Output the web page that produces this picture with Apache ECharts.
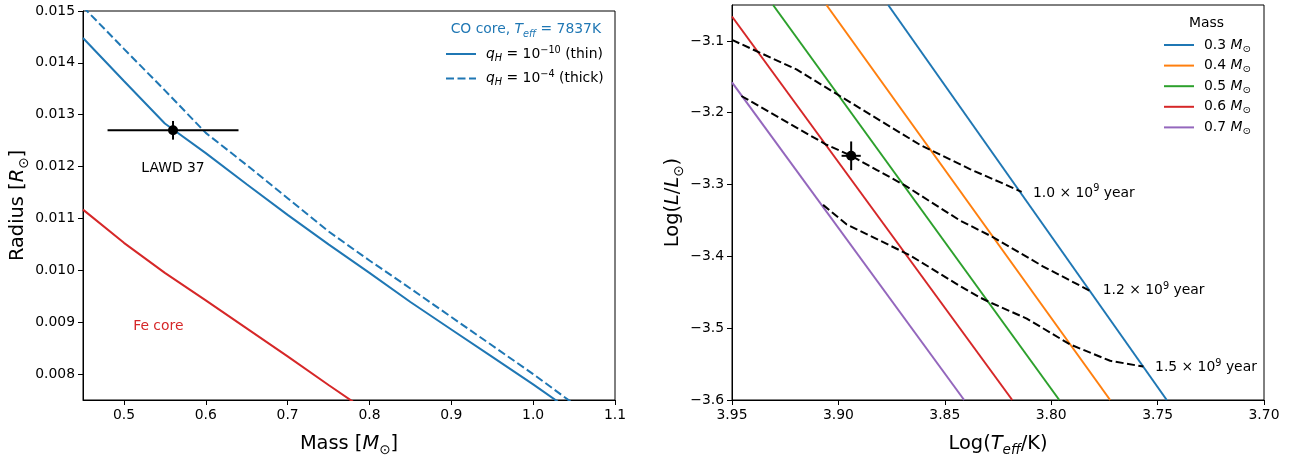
<!DOCTYPE html>
<html><head><meta charset="utf-8">
<script src="https://cdn.jsdelivr.net/npm/echarts@6/dist/echarts.min.js"></script>
<style>html,body{margin:0;padding:0;background:#fff}#c{width:1293px;height:462px}</style>
</head><body><div id="c"></div>
<script>
// ---------- Left panel data: mass-radius relations ----------
const thinMass   = [0.45,0.50,0.55,0.60,0.65,0.70,0.75,0.80,0.85,0.90,0.95,1.00,1.03];
const thinRadius = [0.01448,0.01365,0.01283,0.01226,0.01166,0.01107,0.01050,0.00995,0.00939,0.00886,0.00833,0.00780,0.00747];
const thickMass   = [0.45,0.50,0.55,0.60,0.65,0.70,0.75,0.80,0.85,0.90,0.95,1.00,1.05];
const thickRadius = [0.01508,0.01427,0.01347,0.01265,0.01203,0.01139,0.01075,0.01019,0.00965,0.00910,0.00855,0.00800,0.00742];
const feMass   = [0.45,0.50,0.55,0.60,0.65,0.70,0.75,0.80];
const feRadius = [0.01117,0.01053,0.00995,0.00942,0.00888,0.00834,0.00779,0.00725];
// LAWD 37 measurement
const obsMass = 0.56, obsMassErr = 0.08, obsRadius = 0.0127, obsRadiusErr = 0.00018;
const leftXTicks = [0.5,0.6,0.7,0.8,0.9,1.0,1.1];
const leftXTickLabels = ['0.5','0.6','0.7','0.8','0.9','1.0','1.1'];
const leftYTicks = [0.008,0.009,0.010,0.011,0.012,0.013,0.014,0.015];
const leftYTickLabels = ['0.008','0.009','0.010','0.011','0.012','0.013','0.014','0.015'];
const leftNoteText = ['LAWD 37', 'Fe core'];
const leftNoteMass = [0.56, 0.542];
const leftNoteRadius = [0.01197, 0.00891];

// ---------- Right panel data: cooling tracks & isochrones ----------
const trackMasses = ['0.3','0.4','0.5','0.6','0.7'];
const trackLogT = [[3.8766,3.7457],[3.9056,3.7723],[3.9307,3.7962],[3.95,3.8183],[3.95,3.8409]];
const trackLogL = [[-3.05,-3.6],[-3.05,-3.6],[-3.05,-3.6],[-3.066,-3.6],[-3.1577,-3.6]];
const iso10T = [3.95,3.9197,3.8993,3.8617,3.8382,3.8241,3.8139];
const iso10L = [-3.0986,-3.1397,-3.1767,-3.2446,-3.2785,-3.2967,-3.3102];
const iso12T = [3.9456,3.9056,3.8943,3.8821,3.8688,3.8429,3.8272,3.8037,3.7817];
const iso12L = [-3.1767,-3.2446,-3.2595,-3.2795,-3.3011,-3.35,-3.3735,-3.4142,-3.4481];
const iso15T = [3.9072,3.8962,3.8664,3.8429,3.8335,3.8288,3.8115,3.7911,3.7723,3.7567];
const iso15L = [-3.3283,-3.3554,-3.3984,-3.4413,-3.4572,-3.464,-3.4866,-3.5227,-3.5454,-3.5535];
const isoAges = ['1.0','1.2','1.5'];
const isoLabelT = [3.8086,3.7758,3.7512];
const isoLabelL = [-3.3120,-3.4480,-3.5550];
const obsLogT = 3.894, obsLogTErr = 0.0045, obsLogL = -3.26, obsLogLErr = 0.02;
const rightXTicks = [3.95,3.90,3.85,3.80,3.75,3.70];
const rightXTickLabels = ['3.95','3.90','3.85','3.80','3.75','3.70'];
const rightYTicks = [-3.6,-3.5,-3.4,-3.3,-3.2,-3.1];
const rightYTickLabels = ['\u22123.6','\u22123.5','\u22123.4','\u22123.3','\u22123.2','\u22123.1'];

// ---------- styling ----------
const FONT = 'DejaVu Sans';
const C = ['#1f77b4','#ff7f0e','#2ca02c','#d62728','#9467bd'];
function rich(size, color, lh) {
  const L = lh || Math.round(size*1.35);
  const base = {fontFamily: FONT, color: color, fontSize: size, fontWeight: 'normal', lineHeight: L};
  const small = Math.round(size*0.42);
  return {
    g: {width: 5},
    n: Object.assign({}, base),
    i: Object.assign({}, base, {fontStyle: 'italic'}),
    sub: Object.assign({}, base, {fontSize: size*0.7, lineHeight: small, verticalAlign: 'bottom'}),
    isub: Object.assign({}, base, {fontSize: size*0.7, fontStyle: 'italic', lineHeight: small, verticalAlign: 'bottom'}),
    sup: Object.assign({}, base, {fontSize: size*0.7, lineHeight: small, verticalAlign: 'top'})
  };
}
function zip(a, b) { return a.map((v, k) => [v, b[k]]); }
function lookup(ticks, labels) { return v => { let k = ticks.findIndex(t => Math.abs(t - v) < 1e-9); return k < 0 ? '' : labels[k]; }; }

const TICK = 13.9, NAME = 19.4;
function axisCommon(ticks, labels) {
  return {
    type: 'value', splitLine: {show: false},
    axisLine: {show: true, onZero: false, lineStyle: {color: '#000', width: 1}},
    axisTick: {show: true, inside: false, length: 5, lineStyle: {color: '#000', width: 1}, customValues: ticks},
    axisLabel: {customValues: ticks, formatter: lookup(ticks, labels), fontFamily: FONT, fontSize: TICK, color: '#000', margin: 8}
  };
}

const series = [];
// left panel
series.push({type:'line', name:'thin', xAxisIndex:0, yAxisIndex:0, data: zip(thinMass, thinRadius), symbol:'none', lineStyle:{color:C[0], width:2}, itemStyle:{color:C[0]}, clip:true});
series.push({type:'line', name:'thick', xAxisIndex:0, yAxisIndex:0, data: zip(thickMass, thickRadius), symbol:'none', lineStyle:{color:C[0], width:2, type:[8,3.5]}, itemStyle:{color:C[0]}, clip:true});
series.push({type:'line', name:'fe', xAxisIndex:0, yAxisIndex:0, data: zip(feMass, feRadius), symbol:'none', lineStyle:{color:C[3], width:2}, clip:true});
series.push({type:'line', xAxisIndex:0, yAxisIndex:0, data: [[obsMass-obsMassErr, obsRadius],[obsMass+obsMassErr, obsRadius]], symbol:'none', lineStyle:{color:'#000', width:2}, z:4});
series.push({type:'line', xAxisIndex:0, yAxisIndex:0, data: [[obsMass, obsRadius-obsRadiusErr],[obsMass, obsRadius+obsRadiusErr]], symbol:'none', lineStyle:{color:'#000', width:2}, z:4});
series.push({type:'scatter', xAxisIndex:0, yAxisIndex:0, data: [[obsMass, obsRadius]], symbolSize:10, itemStyle:{color:'#000', opacity:1}, z:4});
series.push({type:'scatter', xAxisIndex:0, yAxisIndex:0, symbolSize:0, silent:true, itemStyle:{opacity:1},
  data: leftNoteText.map((t, k) => ({value:[leftNoteMass[k], leftNoteRadius[k]], name:t,
    label:{color: k === 1 ? C[3] : '#000'}})),
  label:{show:true, position:'inside', formatter: p => p.name, fontFamily:FONT, fontSize:TICK, opacity:1,
    textBorderWidth:0, textShadowBlur:0}});

// right panel
trackMasses.forEach((m, k) => {
  series.push({type:'line', name:'m'+m, xAxisIndex:1, yAxisIndex:1, data: zip(trackLogT[k], trackLogL[k]), symbol:'none', lineStyle:{color:C[k], width:2}, itemStyle:{color:C[k]}, clip:true});
});
[[iso10T,iso10L],[iso12T,iso12L],[iso15T,iso15L]].forEach(p => {
  series.push({type:'line', xAxisIndex:1, yAxisIndex:1, data: zip(p[0], p[1]), symbol:'none', lineStyle:{color:'#000', width:2, type:[8,3.5]}, clip:true, z:3});
});
series.push({type:'line', xAxisIndex:1, yAxisIndex:1, data: [[obsLogT-obsLogTErr, obsLogL],[obsLogT+obsLogTErr, obsLogL]], symbol:'none', lineStyle:{color:'#000', width:2}, z:4});
series.push({type:'line', xAxisIndex:1, yAxisIndex:1, data: [[obsLogT, obsLogL-obsLogLErr],[obsLogT, obsLogL+obsLogLErr]], symbol:'none', lineStyle:{color:'#000', width:2}, z:4});
series.push({type:'scatter', xAxisIndex:1, yAxisIndex:1, data: [[obsLogT, obsLogL]], symbolSize:10, itemStyle:{color:'#000', opacity:1}, z:4});
series.push({type:'scatter', xAxisIndex:1, yAxisIndex:1, symbolSize:0, silent:true, itemStyle:{opacity:1},
  data: isoAges.map((a, k) => ({value:[isoLabelT[k], isoLabelL[k]], name:a})),
  label:{show:true, position:'right', distance:0, textBorderWidth:0, opacity:1,
    formatter: p => '{n|' + p.name + ' \u00d7 10}{sup|9}{n| year}', rich: rich(TICK, '#000')}});

const option = {
  animation: false,
  backgroundColor: '#fff',
  textStyle: {fontFamily: FONT},
  grid: [
    {left: 83, top: 11, width: 532, height: 400, show: true, borderColor: '#000', borderWidth: 1},
    {left: 732, top: 5, width: 532, height: 405, show: true, borderColor: '#000', borderWidth: 1}
  ],
  xAxis: [
    Object.assign(axisCommon(leftXTicks, leftXTickLabels), {gridIndex:0, min:0.45, max:1.1,
      name:'{n|Mass [}{i|M}{sub|\u2299}{n|]}', nameLocation:'middle', nameGap:31, nameTextStyle:{rich: rich(NAME,'#000')}}),
    Object.assign(axisCommon(rightXTicks, rightXTickLabels), {gridIndex:1, min:3.70, max:3.95, inverse:true,
      name:'{n|Log(}{i|T}{isub|eff}{n|/K)}', nameLocation:'middle', nameGap:31, nameTextStyle:{rich: rich(NAME,'#000')}})
  ],
  yAxis: [
    Object.assign(axisCommon(leftYTicks, leftYTickLabels), {gridIndex:0, min:0.0075, max:0.015,
      name:'{n|Radius [}{i|R}{sub|\u2299}{n|]}', nameLocation:'middle', nameRotate:90, nameGap:52, nameTextStyle:{rich: rich(NAME,'#000')}}),
    Object.assign(axisCommon(rightYTicks, rightYTickLabels), {gridIndex:1, min:-3.6, max:-3.05,
      name:'{n|Log(}{i|L}{n|/}{i|L}{sub|\u2299}{n|)}', nameLocation:'middle', nameRotate:90, nameGap:45, nameTextStyle:{rich: rich(NAME,'#000')}})
  ],
  title: [
    {text:'{n|CO core, }{i|T}{isub|eff}{n| = 7837K}', right: 692, top: 20, padding: 0, textStyle:{fontWeight:'normal', rich: rich(TICK, C[0])}},
    {text:'Mass', left: 1189, top: 16, padding: 0, textStyle:{fontFamily:FONT, fontSize:TICK, fontWeight:'normal', color:'#000'}}
  ],
  legend: [
    {data:['thin','thick'], orient:'vertical', left: 445, top: 45, itemWidth: 30, itemHeight: 12, itemGap: 6.5, padding: 0,
      itemStyle: {opacity: 0},
      formatter: n => n === 'thin' ? '{g|}{i|q}{isub|H}{n| = 10}{sup|\u221210}{n| (thin)}' : '{g|}{i|q}{isub|H}{n| = 10}{sup|\u22124}{n| (thick)}',
      textStyle:{rich: rich(TICK,'#000',18)}},
    {data: trackMasses.map(m => 'm'+m), orient:'vertical', left: 1163, top: 38, itemWidth: 30, itemHeight: 12, itemGap: 4.6, padding: 0,
      itemStyle: {opacity: 0},
      formatter: n => '{g|}{n|' + n.slice(1) + ' }{i|M}{sub|\u2299}',
      textStyle:{rich: rich(TICK,'#000',18)}}
  ],
  series: series
};
const chart = echarts.init(document.getElementById('c'), null, {renderer: 'canvas'});
chart.setOption(option);
</script></body></html>
